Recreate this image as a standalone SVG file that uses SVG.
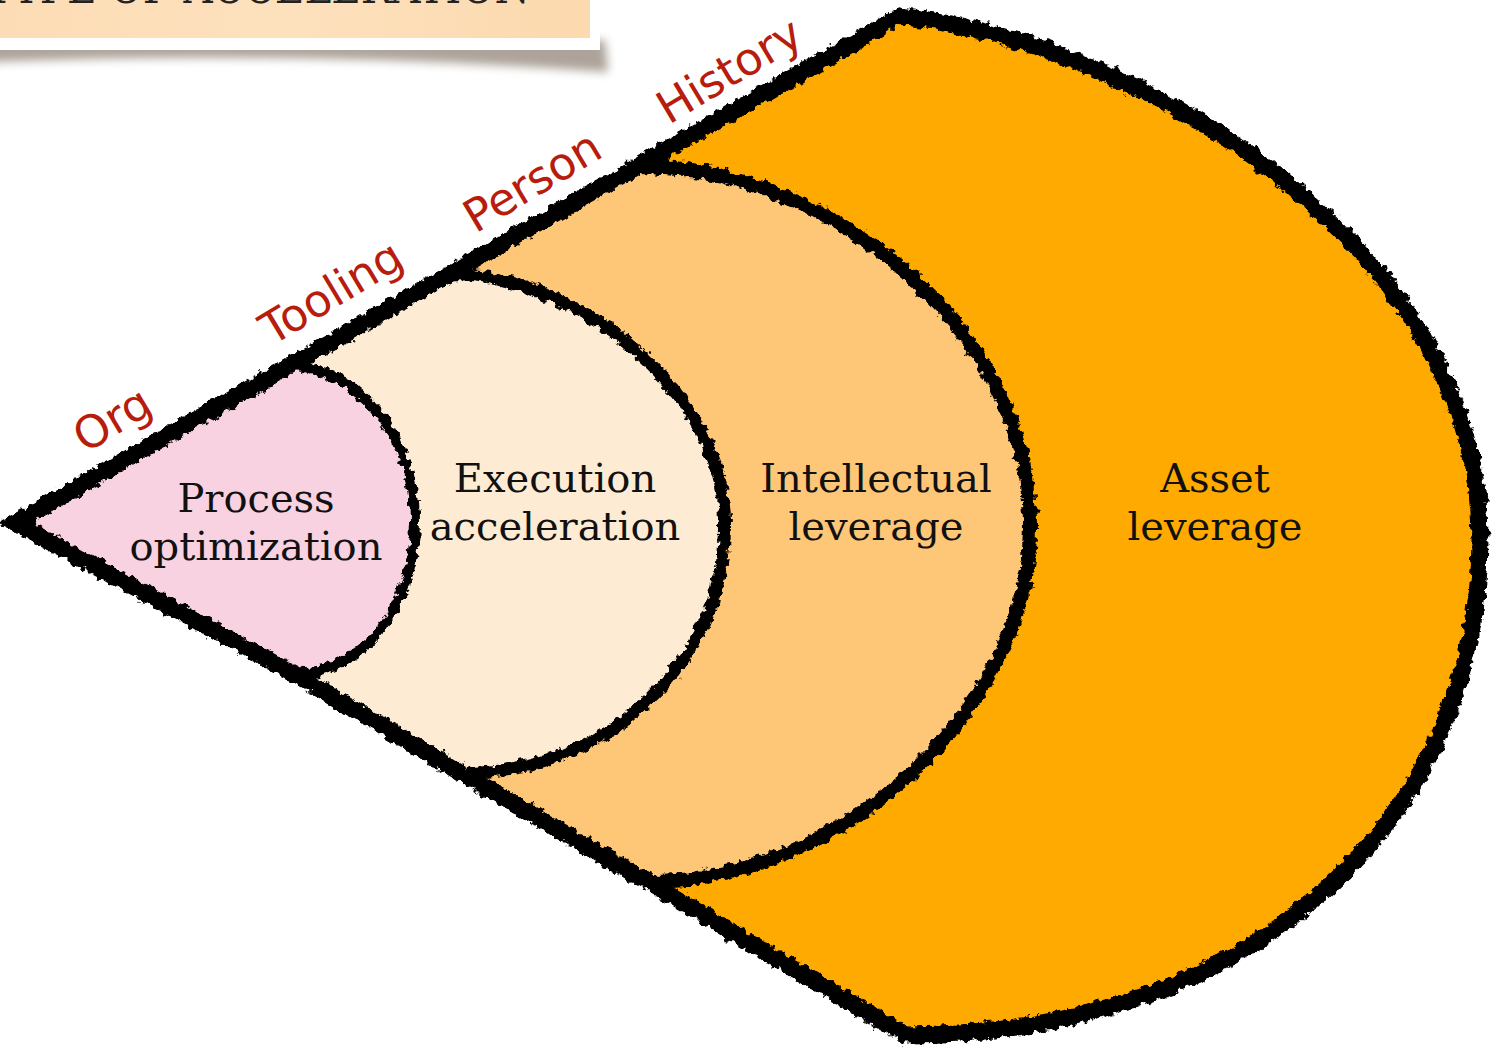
<svg xmlns="http://www.w3.org/2000/svg" width="1496" height="1051" viewBox="0 0 1496 1051">
<defs>
<style>
.lbl{font-family:"DejaVu Serif","Liberation Serif",serif;font-size:40px;fill:#111;text-anchor:middle}
.tag{font-family:"DejaVu Sans","Open Sans",sans-serif;font-size:45px;fill:#b71c0c;text-anchor:middle}
.edge{fill:none;stroke:#000;stroke-linejoin:miter;stroke-miterlimit:10}
</style>
<linearGradient id="peach" x1="0" y1="0" x2="1" y2="0">
<stop offset="0" stop-color="#fcdcb4"/><stop offset="0.5" stop-color="#fde1bd"/><stop offset="1" stop-color="#fcd9ae"/>
</linearGradient>
<filter id="rough" x="-5%" y="-5%" width="110%" height="110%">
<feTurbulence type="fractalNoise" baseFrequency="0.13" numOctaves="3" seed="7" result="n"/>
<feDisplacementMap in="SourceGraphic" in2="n" scale="10" xChannelSelector="R" yChannelSelector="G"/>
</filter>
<filter id="shadow" x="-10%" y="-50%" width="120%" height="200%">
<feGaussianBlur stdDeviation="5"/>
</filter>
</defs>
<rect width="1496" height="1051" fill="#fff"/>
<g id="title">
<path d="M-10,40 L605,40 L608,72 Q300,50 -10,62 Z" fill="#8a7d70" opacity="0.7" filter="url(#shadow)"/>
<rect x="-20" y="-20" width="620" height="70" fill="#fff"/>
<rect x="-20" y="-20" width="610" height="58" fill="url(#peach)"/>
<text x="-14" y="3" font-family="DejaVu Serif, Liberation Serif, serif" font-size="44" fill="#222" textLength="544" lengthAdjust="spacingAndGlyphs">TYPE OF ACCELERATION</text>
</g>
<g id="asset">
<path d="M15,523 L900,16 C1150,45 1480,250 1480,540 C1480,820 1250,1035 905,1035 L648,882 L462,773 L294,674 Z" fill="#ffaa00"/>
<text class="lbl" x="1215" y="492">Asset</text>
<text class="lbl" x="1215" y="540">leverage</text>
</g>
<g id="intellectual">
<path d="M15,523 L638,166 C830,166 1030,330 1030,525 C1030,720 830,882 648,882 L462,773 L294,674 Z" fill="#fec677"/>
<text class="lbl" x="876" y="492">Intellectual</text>
<text class="lbl" x="876" y="540">leverage</text>
</g>
<g id="execution">
<path d="M15,523 L450,274 C575,274 725,390 725,525 C725,665 605,773 462,773 L294,674 Z" fill="#feebd3"/>
<text class="lbl" x="555" y="492">Execution</text>
<text class="lbl" x="555" y="540">acceleration</text>
</g>
<g id="process">
<path d="M15,523 L289,366 C360,366 415,440 415,522 C415,610 360,674 294,674 Z" fill="#f8d2e1"/>
<text class="lbl" x="256" y="512">Process</text>
<text class="lbl" x="256" y="560">optimization</text>
</g>
<g id="connectors" filter="url(#rough)">
<path class="edge" stroke-width="17" d="M15,523 L900,16 C1150,45 1480,250 1480,540 C1480,820 1250,1035 905,1035 L648,882 L462,773 L294,674 Z"/>
<path class="edge" stroke-width="14" d="M638,166 C830,166 1030,330 1030,525 C1030,720 830,882 648,882"/>
<path class="edge" stroke-width="12" d="M450,274 C575,274 725,390 725,525 C725,665 605,773 462,773"/>
<path class="edge" stroke-width="10" d="M289,366 C360,366 415,440 415,522 C415,610 360,674 294,674"/>
</g>
<g id="tags">
<text class="tag" transform="translate(112,419) rotate(-31)" y="16">Org</text>
<text class="tag" transform="translate(331,292) rotate(-31)" y="16">Tooling</text>
<text class="tag" transform="translate(532,181) rotate(-31)" y="16">Person</text>
<text class="tag" transform="translate(729,70) rotate(-31)" y="16">History</text>
</g>
</svg>
